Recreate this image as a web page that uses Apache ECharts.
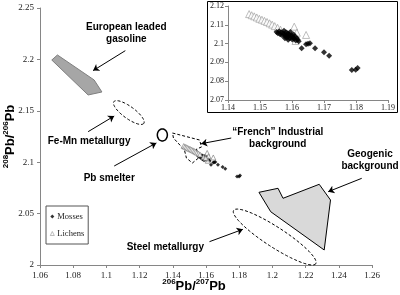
<!DOCTYPE html>
<html>
<head>
    <meta charset="utf-8" />
    <title>Pb isotopes</title>
    <script src="https://cdn.jsdelivr.net/npm/echarts@6/dist/echarts.min.js"></script>
</head>
<body style="margin:0">
    <div id="main" style="width: 400px;height:295px;"></div>
    <script type="text/javascript">
        // measured ratios [206Pb/207Pb, 208Pb/206Pb]
        var mosses = [
            [1.1552,2.1062],[1.1556,2.1055],[1.1560,2.1066],[1.1563,2.1050],[1.1566,2.1060],
            [1.1569,2.1044],[1.1572,2.1055],[1.1575,2.1068],[1.1577,2.1048],[1.1579,2.1038],
            [1.1581,2.1060],[1.1583,2.1044],[1.1585,2.1032],[1.1587,2.1055],[1.1589,2.1040],
            [1.1591,2.1048],[1.1593,2.1028],[1.1595,2.1062],[1.1597,2.1036],[1.1599,2.1044],
            [1.1601,2.1022],[1.1603,2.1033],[1.1605,2.1048],[1.1607,2.1026],[1.1609,2.1038],
            [1.1612,2.1016],[1.1615,2.1030],[1.1618,2.1020],[1.1621,2.1012],[1.1578,2.1028],
            [1.1588,2.1020],[1.1630,2.0975],[1.1644,2.0996],[1.1650,2.0999],[1.1656,2.1002],
            [1.1672,2.0975],[1.1700,2.0954],[1.1716,2.0936],[1.1787,2.0860],[1.1799,2.0861],
            [1.1805,2.0870]
        ];
        var lichens = [
            [1.1466,2.1157],[1.1474,2.1151],[1.1482,2.1145],[1.1490,2.1139],[1.1498,2.1132],
            [1.1506,2.1127],[1.1514,2.1121],[1.1522,2.1115],[1.1530,2.1108],[1.1538,2.1101],
            [1.1546,2.1093],[1.1555,2.1084],[1.1564,2.1074],
            [1.1607,2.1090],[1.1615,2.1058],[1.1644,2.1046],[1.1611,2.1014],[1.1585,2.1050],
            [1.1598,2.1040]
        ];

        // source fields, in data units
        var gasoline = [[1.0671,2.1994],[1.0705,2.2043],[1.0926,2.1800],[1.0973,2.1683],[1.0890,2.1654]];
        var geogenic = [[1.1919,2.0707],[1.2034,2.0746],[1.2064,2.0649],[1.2282,2.0785],
                        [1.2350,2.0632],[1.2312,2.0146],[1.1990,2.0518]];
        var french = [[1.1398,2.1284],[1.1561,2.1216],[1.1573,2.1148],[1.1543,2.1128],[1.1555,2.1041],
                      [1.1518,2.0992],[1.1482,2.1041],[1.1470,2.1119],[1.1404,2.1235]];
        // ellipses: centre, half axes in px, tilt in degrees
        var feMn = { c: [1.1135, 2.1483], rx: 18.5, ry: 6, rot: 36 };
        var steel = { c: [1.2014, 2.0272], rx: 49, ry: 10, rot: 33 };
        var smelter = { c: [1.1337, 2.1265], rx: 5, ry: 6, rot: 0 };

        var labels = [
            { pos: [1.1120, 2.2257], text: 'European leaded\ngasoline' },
            { pos: [1.0896, 2.1201], text: 'Fe-Mn metallurgy' },
            { pos: [1.1017, 2.0846], text: 'Pb smelter' },
            { pos: [1.2032, 2.1229], text: '\u201cFrench\u201d Industrial\nbackground' },
            { pos: [1.1355, 2.0175], text: 'Steel metallurgy' },
            { pos: [1.2588, 2.1017], text: 'Geogenic\nbackground' }
        ];
        var arrows = [
            [[1.1114,2.2085],[1.0920,2.1891]],
            [[1.0890,2.1297],[1.1047,2.1449]],
            [[1.1047,2.0963],[1.1301,2.1187]],
            [[1.1752,2.1235],[1.1571,2.1180]],
            [[1.1621,2.0227],[1.1822,2.0347]],
            [[1.2538,2.0843],[1.2336,2.0713]]
        ];

        var serif = '"Liberation Serif", "Times New Roman", serif';
        var sans = '"Liberation Sans", Arial, sans-serif';

        var myChart = echarts.init(document.getElementById('main'));

        function polygon(pts, fill, stroke, dashed) {
            return {
                type: 'custom', xAxisIndex: 0, yAxisIndex: 0, z: 1, silent: true,
                data: [pts[0]],
                renderItem: function (params, api) {
                    return {
                        type: 'polygon',
                        shape: { points: pts.map(function (p) { return api.coord(p); }) },
                        style: { fill: fill, stroke: stroke, lineWidth: 1, lineDash: dashed ? [3, 2] : null }
                    };
                }
            };
        }
        function ellipse(e, fill) {
            return {
                type: 'custom', xAxisIndex: 0, yAxisIndex: 0, z: 1, silent: true,
                data: [e.c],
                renderItem: function (params, api) {
                    var c = api.coord(e.c), a = e.rot * Math.PI / 180, pts = [];
                    for (var i = 0; i < 60; i++) {
                        var t = i / 60 * Math.PI * 2;
                        var dx = e.rx * Math.cos(t), dy = e.ry * Math.sin(t);
                        pts.push([c[0] + dx * Math.cos(a) - dy * Math.sin(a), c[1] + dx * Math.sin(a) + dy * Math.cos(a)]);
                    }
                    return {
                        type: 'polygon', shape: { points: pts },
                        style: { fill: fill, stroke: '#000', lineWidth: fill ? 1.5 : 1, lineDash: fill ? null : [3, 2] }
                    };
                }
            };
        }

        var sup = { fontSize: 8, fontWeight: 'bold', fontFamily: sans, color: '#000', verticalAlign: 'top', lineHeight: 16 };
        var big = { fontSize: 13, fontWeight: 'bold', fontFamily: sans, color: '#000', lineHeight: 16 };

        var option = {
            animation: false,
            backgroundColor: '#fff',
            graphic: [{
                type: 'rect', z: -1,
                shape: { x: 207.5, y: 1.5, width: 190, height: 111 },
                style: { fill: '#fff', stroke: '#000', lineWidth: 1 }
            }],
            legend: {
                left: 46, top: 206, orient: 'vertical',
                data: [
                    { name: 'Mosses', icon: 'diamond', itemStyle: { color: '#000', borderWidth: 0 } },
                    { name: 'Lichens', icon: 'triangle', itemStyle: { color: '#fff', borderColor: '#777', borderWidth: 0.6 } }
                ],
                borderColor: '#555', borderWidth: 1, borderRadius: 0,
                padding: [6, 4, 6, 4], itemGap: 8,
                itemWidth: 4, itemHeight: 4,
                textStyle: { fontFamily: serif, fontSize: 8.5, color: '#222', padding: [0, 0, 0, -2] }
            },
            grid: [
                { left: 40, right: 28, top: 8, bottom: 30, outerBoundsMode: 'none' },
                { left: 228, right: 12, top: 6, bottom: 195, outerBoundsMode: 'none' }
            ],
            xAxis: [{
                gridIndex: 0, type: 'value', min: 1.06, max: 1.26, interval: 0.02,
                name: '{s|206}{b|Pb/}{s|207}{b|Pb}', nameLocation: 'middle', nameGap: 13,
                nameMoveOverlap: false,
                nameTextStyle: { rich: { s: sup, b: big }, padding: [0, 24, 0, 0] },
                splitLine: { show: false },
                axisLine: { lineStyle: { color: '#868686' } },
                axisTick: { length: 3, lineStyle: { color: '#868686' } },
                axisLabel: { fontFamily: serif, fontSize: 9, color: '#222', margin: 6 }
            }, {
                gridIndex: 1, type: 'value', min: 1.14, max: 1.19, interval: 0.01,
                splitLine: { show: false },
                axisLine: { lineStyle: { color: '#868686' } },
                axisTick: { length: 3, lineStyle: { color: '#868686' } },
                axisLabel: { fontFamily: serif, fontSize: 8, color: '#222', margin: 4 }
            }],
            yAxis: [{
                gridIndex: 0, type: 'value', min: 2, max: 2.25, interval: 0.05,
                name: '{s|208}{b|Pb/}{s|206}{b|Pb}', nameLocation: 'middle', nameGap: 22,
                nameMoveOverlap: false,
                nameTextStyle: { rich: { s: sup, b: big } },
                splitLine: { show: false },
                axisLine: { show: true, lineStyle: { color: '#868686' } },
                axisTick: { show: true, length: 3, lineStyle: { color: '#868686' } },
                axisLabel: { fontFamily: serif, fontSize: 9, color: '#222', margin: 6 }
            }, {
                gridIndex: 1, type: 'value', min: 2.07, max: 2.12, interval: 0.01,
                splitLine: { show: false },
                axisLine: { show: true, lineStyle: { color: '#868686' } },
                axisTick: { show: true, length: 3, lineStyle: { color: '#868686' } },
                axisLabel: { fontFamily: serif, fontSize: 8, color: '#222', margin: 4 }
            }],
            series: [
                polygon(gasoline, '#a6a6a6', '#7f7f7f', false),
                polygon(geogenic, '#d9d9d9', '#000', false),
                polygon(french, 'rgba(0,0,0,0)', '#000', true),
                ellipse(feMn, null),
                ellipse(steel, null),
                ellipse(smelter, '#fff'),
                {
                    type: 'lines', coordinateSystem: 'cartesian2d', xAxisIndex: 0, yAxisIndex: 0,
                    silent: true, symbol: ['none', 'arrow'], symbolSize: 6,
                    lineStyle: { color: '#000', width: 1, opacity: 1 },
                    data: arrows.map(function (a) { return { coords: a }; })
                },
                {
                    type: 'custom', xAxisIndex: 0, yAxisIndex: 0, silent: true, z: 5,
                    data: labels.map(function (l) { return l.pos; }),
                    renderItem: function (params, api) {
                        var p = api.coord([api.value(0), api.value(1)]);
                        return {
                            type: 'text', x: p[0], y: p[1],
                            style: {
                                text: labels[params.dataIndex].text, fill: '#000',
                                font: 'bold 10px ' + sans, align: 'center', verticalAlign: 'middle', lineHeight: 12
                            }
                        };
                    }
                },
                {
                    name: 'Mosses', type: 'scatter', xAxisIndex: 0, yAxisIndex: 0, z: 3,
                    symbol: 'diamond', symbolSize: 4,
                    itemStyle: { color: '#000' },
                    data: mosses
                },
                {
                    name: 'Lichens', type: 'scatter', xAxisIndex: 0, yAxisIndex: 0, z: 3,
                    symbol: 'triangle', symbolSize: 5,
                    itemStyle: { color: '#fff', borderColor: '#777', borderWidth: 0.8 },
                    data: lichens
                },
                {
                    name: 'Lichens', type: 'scatter', xAxisIndex: 1, yAxisIndex: 1, z: 3,
                    symbol: 'triangle', symbolSize: 7,
                    itemStyle: { color: '#fff', borderColor: '#999', borderWidth: 0.8 },
                    data: lichens
                },
                {
                    name: 'Mosses', type: 'scatter', xAxisIndex: 1, yAxisIndex: 1, z: 4,
                    symbol: 'diamond', symbolSize: 6,
                    itemStyle: { color: '#000' },
                    data: mosses
                }
            ]
        };
        myChart.setOption(option);
    </script>
</body>
</html>
